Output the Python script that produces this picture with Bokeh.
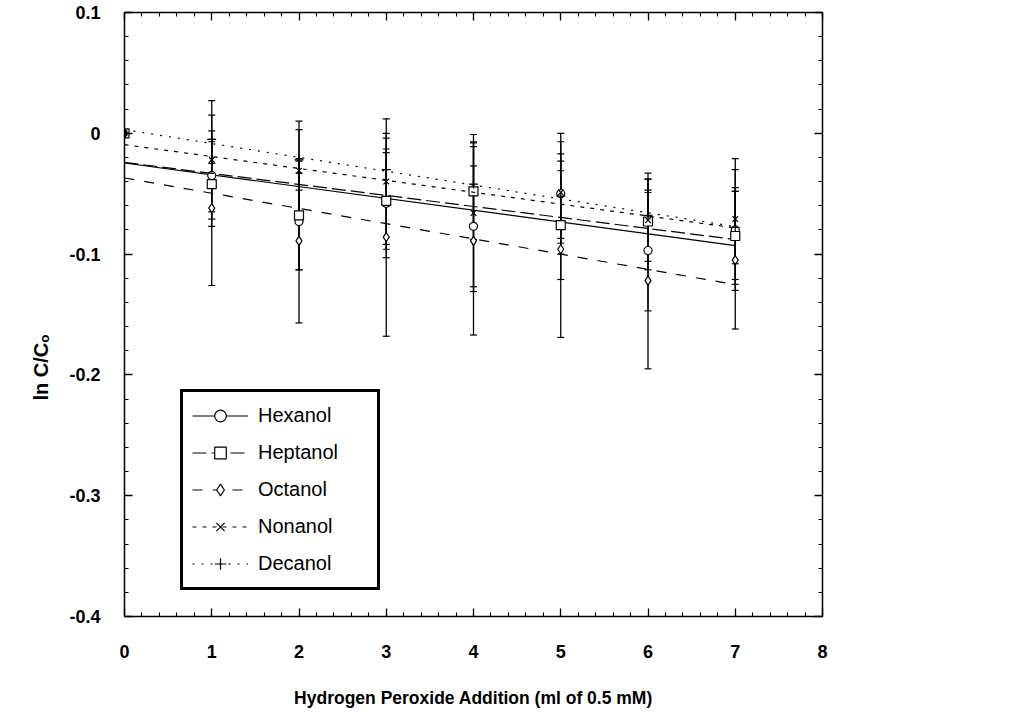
import numpy as np
from bokeh.plotting import figure
from bokeh.models import (Range1d, LinearAxis, FixedTicker, Whisker, ColumnDataSource,
                          Legend, LegendItem, TeeHead, CustomJSTickFormatter, Title)
from bokeh.embed import file_html
from bokeh.resources import INLINE

# ---- data ----
additions = [0, 1, 2, 3, 4, 5, 6, 7]
series_names = ["Hexanol", "Heptanol", "Octanol", "Nonanol", "Decanol"]
hexanol = [0, -0.035, -0.073, -0.058, -0.077, -0.050, -0.097, -0.080]
heptanol = [0, -0.042, -0.068, -0.056, -0.048, -0.076, -0.073, -0.085]
octanol = [0, -0.062, -0.089, -0.086, -0.089, -0.096, -0.122, -0.105]
nonanol = [0, -0.022, -0.031, -0.040, -0.066, -0.049, -0.072, -0.071]
decanol = [0, -0.005, -0.022, -0.030, -0.042, -0.052, -0.068, -0.078]
hexanol_err = [0, 0.030, 0.040, 0.045, 0.050, 0.050, 0.050, 0.050]
heptanol_err = [0, 0.035, 0.045, 0.040, 0.040, 0.045, 0.040, 0.040]
octanol_err = [0, 0.064, 0.068, 0.082, 0.078, 0.073, 0.073, 0.057]
nonanol_err = [0, 0.049, 0.041, 0.052, 0.065, 0.042, 0.034, 0.050]
decanol_err = [0, 0.020, 0.025, 0.030, 0.035, 0.035, 0.030, 0.030]
x_ticks = [0, 1, 2, 3, 4, 5, 6, 7, 8]
y_ticks = [-0.4, -0.3, -0.2, -0.1, 0.0, 0.1]

values = [hexanol, heptanol, octanol, nonanol, decanol]
errors = [hexanol_err, heptanol_err, octanol_err, nonanol_err, decanol_err]
markers = ["circle", "square", "diamond", "x", "cross"]
marker_sizes = [8, 9, 9, 8, 9]
dashes = ["solid", "14 5", "10 10", "4 6", "2 7"]

FONT = "Liberation Sans"

p = figure(x_range=Range1d(0, 8), y_range=Range1d(-0.4, 0.1),
           frame_width=698, frame_height=604,
           min_border_left=124, min_border_right=195, min_border_top=12, min_border_bottom=85,
           output_backend="svg", toolbar_location=None)
p.outline_line_color = None
p.xgrid.visible = False
p.ygrid.visible = False

x_minor = [i * 0.2 for i in range(41)]
y_minor = [-0.4 + i * 0.02 for i in range(26)]
blank = CustomJSTickFormatter(code="return '';")

def style_axis(ax):
    ax.axis_line_width = 1.5
    ax.axis_line_color = "black"
    ax.major_tick_in = 8
    ax.major_tick_out = 0
    ax.minor_tick_in = 4
    ax.minor_tick_out = 0
    ax.major_tick_line_width = 1.3
    ax.minor_tick_line_width = 1.1
    ax.major_label_text_font = FONT
    ax.major_label_text_font_style = "bold"
    ax.major_label_text_font_size = "18px"
    ax.major_label_text_color = "black"
    ax.axis_label_text_color = "black"

xax = p.xaxis[0]
xax.ticker = FixedTicker(ticks=x_ticks, minor_ticks=x_minor)
style_axis(xax)
xax.major_label_standoff = 28
xax.axis_label = "Hydrogen Peroxide Addition (ml of 0.5 mM)"
xax.axis_label_text_font = FONT
xax.axis_label_text_font_style = "bold"
xax.axis_label_text_font_size = "17.5px"
xax.axis_label_standoff = 27

yax = p.yaxis[0]
yax.ticker = FixedTicker(ticks=y_ticks, minor_ticks=y_minor)
yax.formatter = CustomJSTickFormatter(code="return Math.abs(tick) < 1e-9 ? '0' : tick.toFixed(1);")
style_axis(yax)
yax.major_label_standoff = 24

ytitle = Title(text="ln C/Cₒ", align="left", offset=216, standoff=30,
               text_font=FONT, text_font_style="bold", text_font_size="20px", text_color="black")
p.add_layout(ytitle, "left")

top = LinearAxis(ticker=FixedTicker(ticks=x_ticks, minor_ticks=x_minor), formatter=blank)
style_axis(top)
p.add_layout(top, "above")
right = LinearAxis(ticker=FixedTicker(ticks=y_ticks, minor_ticks=y_minor), formatter=blank)
style_axis(right)
p.add_layout(right, "right")

items = []
xs = np.array(additions, dtype=float)
for name, yv, ev, mk, ms, dash in zip(series_names, values, errors, markers, marker_sizes, dashes):
    yv = np.array(yv, dtype=float)
    ev = np.array(ev, dtype=float)
    keep = ev > 0
    src_e = ColumnDataSource(dict(x=xs[keep], upper=(yv + ev)[keep], lower=(yv - ev)[keep]))
    w = Whisker(source=src_e, base="x", upper="upper", lower="lower",
                line_color="black", line_width=1.3,
                upper_head=TeeHead(size=7, line_width=1.2, line_color="black"),
                lower_head=TeeHead(size=7, line_width=1.2, line_color="black"),
                level="underlay")
    p.add_layout(w)
    slope, icpt = np.polyfit(xs, yv, 1)
    fit_x = np.array([xs.min(), xs.max()])
    lr = p.line(fit_x, slope * fit_x + icpt, line_color="black", line_width=1.2, line_dash=dash)
    sr = p.scatter(xs, yv, marker=mk, size=ms, line_color="black", fill_color="white", line_width=1.2)
    items.append(LegendItem(label=name, renderers=[lr, sr]))

legend = Legend(items=items, location=(56, 26))
legend.label_text_font = FONT
legend.label_text_font_size = "20px"
legend.label_text_color = "black"
legend.border_line_color = "black"
legend.border_line_alpha = 1
legend.border_line_width = 3
legend.padding = 9
legend.spacing = 8
legend.glyph_height = 29
legend.label_height = 29
legend.glyph_width = 56
legend.label_standoff = 10
legend.label_width = 110
legend.margin = 0
legend.background_fill_color = "white"
legend.background_fill_alpha = 1
p.add_layout(legend, "center")

open("out.html", "w").write(file_html(p, INLINE))
